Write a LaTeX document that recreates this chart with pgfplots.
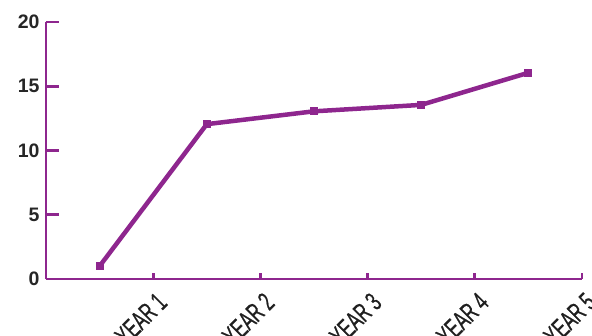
\documentclass[border=0pt]{standalone}
\usepackage{pgfplots}
\pgfplotsset{compat=1.18}
\usepackage{fontspec}
\setmainfont{Liberation Sans}
\newfontfamily\condfont[FakeStretch=0.62,FakeBold=0.6]{Liberation Sans}
\definecolor{purp}{RGB}{142,38,142}
\begin{document}
\begin{tikzpicture}
\begin{axis}[
  scale only axis,
  width=536pt, height=257pt,
  xmin=0.5, xmax=5.5, ymin=0, ymax=20,
  axis lines=left,
  axis line style={-, line width=2.8pt, color=purp},
  tick align=inside,
  xtick={1.5,2.5,3.5,4.5,5.5},
  xticklabels={YEAR 1,YEAR 2,YEAR 3,YEAR 4,YEAR 5},
  ytick={0,5,10,15,20},
  xtick style={line width=2.8pt, color=purp, /pgfplots/major tick length=6pt},
  ytick style={line width=2.8pt, color=purp, /pgfplots/major tick length=13pt},
  yticklabel style={font=\fontsize{19.5}{22}\selectfont\bfseries, text=black!85, xshift=-3pt},
  xticklabel style={font=\condfont\fontsize{27}{29}\selectfont, text=black!88, rotate=45, anchor=north east, inner sep=0pt, xshift=-7pt, yshift=-10pt},
  /pgf/number format/assume math mode=true,
  clip=false,
]
\addplot[color=purp, line width=4.5pt, mark=square*, mark size=3.5pt, mark options={line width=0pt}] coordinates {
  (1,1) (2,12.05) (3,13.05) (4,13.55) (5,16.05)
};
\end{axis}
\pgfresetboundingbox
\path[use as bounding box] (-46pt,-56pt) rectangle (546pt,279pt);
\end{tikzpicture}
\end{document}
